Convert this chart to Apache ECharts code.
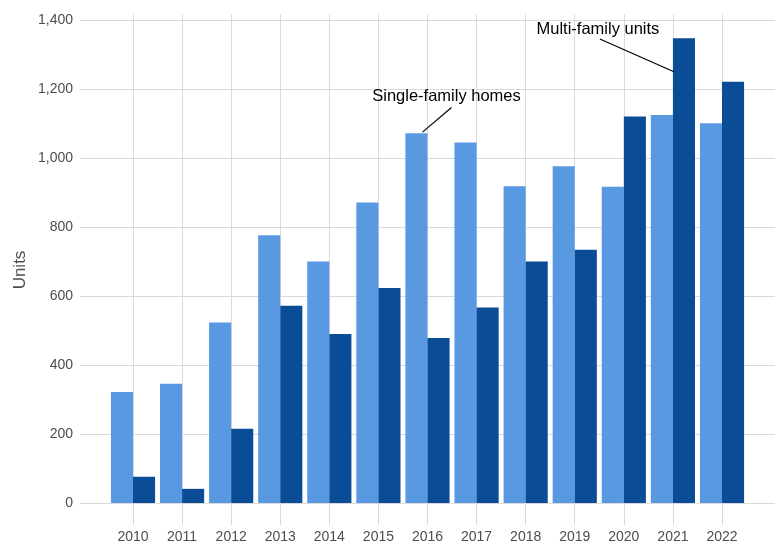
<!DOCTYPE html>
<html>
<head>
<meta charset="utf-8">
<title>Units</title>
<script src="https://cdn.jsdelivr.net/npm/echarts@6/dist/echarts.min.js"></script>
<style>
  html, body { margin: 0; padding: 0; background: #fff; }
  #chart { width: 775px; height: 544px; }
</style>
</head>
<body>
<div id="chart"></div>
<script>
// data
var years = ['2010', '2011', '2012', '2013', '2014', '2015', '2016', '2017', '2018', '2019', '2020', '2021', '2022']
var singleFamily = [322, 346, 523, 776, 700, 871, 1072, 1045, 918, 976, 917, 1125, 1101]
var multiFamily = [76, 41, 215, 572, 490, 623, 478, 567, 700, 734, 1120, 1347, 1221]
var yTicks = [0, 200, 400, 600, 800, 1000, 1200, 1400]

var gridColor = '#dadada'
var textColor = '#4d4d4d'
var font = 'Liberation Sans, Arial, sans-serif'

var chart = echarts.init(document.getElementById('chart'))

chart.setOption({
  animation: false,
  textStyle: { fontFamily: font },
  grid: [
    // panel for the horizontal lines, a bit wider than the bars
    { left: 80, right: 0, top: 20, bottom: 40.5 },
    // bars sit in this one
    { left: 108.46, right: 28.46, top: 20, bottom: 40.5 }
  ],
  xAxis: [
    { type: 'category', gridIndex: 0, data: years, show: false },
    {
      type: 'category',
      gridIndex: 1,
      position: 'bottom',
      z: 0,
      data: years,
      axisLine: { show: true, lineStyle: { opacity: 0 } },
      axisLabel: { show: false },
      axisTick: {
        show: true,
        alignWithLabel: true,
        inside: true,
        length: 488.5, // vertical grid lines up to the top
        lineStyle: { color: gridColor, width: 1 }
      },
      splitLine: { show: false }
    },
    {
      type: 'category',
      gridIndex: 1,
      position: 'bottom',
      z: 0,
      data: years,
      axisLine: { show: true, lineStyle: { opacity: 0 } },
      axisTick: {
        show: true,
        alignWithLabel: true,
        length: 22,
        lineStyle: { color: gridColor, width: 1 }
      },
      axisLabel: { margin: 27, color: textColor, fontSize: 14, fontFamily: font },
      splitLine: { show: false }
    }
  ],
  yAxis: [
    {
      type: 'value',
      gridIndex: 0,
      z: 0,
      min: yTicks[0],
      max: yTicks[yTicks.length - 1],
      interval: yTicks[1] - yTicks[0],
      axisLine: { show: false },
      axisTick: { show: false },
      axisLabel: {
        margin: 7,
        color: textColor,
        fontSize: 14,
        fontFamily: font,
        formatter: function (v) { return v.toLocaleString('en-US') }
      },
      splitLine: { lineStyle: { color: gridColor, width: 1 } }
    },
    {
      type: 'value',
      gridIndex: 1,
      min: yTicks[0],
      max: yTicks[yTicks.length - 1],
      show: false,
      splitLine: { show: false }
    }
  ],
  series: [
    {
      name: 'Single-family homes',
      type: 'bar',
      xAxisIndex: 1,
      yAxisIndex: 1,
      z: 10,
      data: singleFamily,
      barGap: '0%',
      barCategoryGap: '10%',
      itemStyle: { color: '#5899e2' }
    },
    {
      name: 'Multi-family units',
      type: 'bar',
      xAxisIndex: 1,
      yAxisIndex: 1,
      z: 10,
      data: multiFamily,
      barGap: '0%',
      barCategoryGap: '10%',
      itemStyle: { color: '#0b4c96' }
    }
  ]
})

// labels with leader lines, placed from the bar tops
function toPx(cat, value) {
  return chart.convertToPixel({ xAxisIndex: 1, yAxisIndex: 1 }, [cat, value])
}

var iSingle = years.indexOf('2016')
var iMulti = years.indexOf('2021')
var p1 = toPx(iSingle, singleFamily[iSingle])
var p2 = toPx(iMulti, multiFamily[iMulti])
var annoStyle = { fill: '#000', fontSize: 16.5, fontFamily: font, align: 'center', verticalAlign: 'middle' }

chart.setOption({
  graphic: [
    {
      type: 'line',
      z: 20,
      shape: { x1: p1[0] + 24, y1: p1[1] - 25.6, x2: p1[0] - 5, y2: p1[1] - 1 },
      style: { stroke: '#000', lineWidth: 1.2 }
    },
    {
      type: 'text',
      z: 20,
      x: p1[0] + 19,
      y: p1[1] - 36.3,
      style: Object.assign({ text: 'Single-family homes' }, annoStyle)
    },
    {
      type: 'line',
      z: 20,
      shape: { x1: p2[0] - 73, y1: p2[1] + 0.7, x2: p2[0] + 1, y2: p2[1] + 33.4 },
      style: { stroke: '#000', lineWidth: 1.2 }
    },
    {
      type: 'text',
      z: 20,
      x: p2[0] - 75,
      y: p2[1] - 9.3,
      style: Object.assign({ text: 'Multi-family units' }, annoStyle)
    },
    {
      // axis title
      type: 'text',
      x: 20,
      y: 270,
      rotation: Math.PI / 2,
      style: { text: 'Units', fill: textColor, fontSize: 17, fontFamily: font, align: 'center', verticalAlign: 'middle' }
    }
  ]
})
</script>
</body>
</html>
